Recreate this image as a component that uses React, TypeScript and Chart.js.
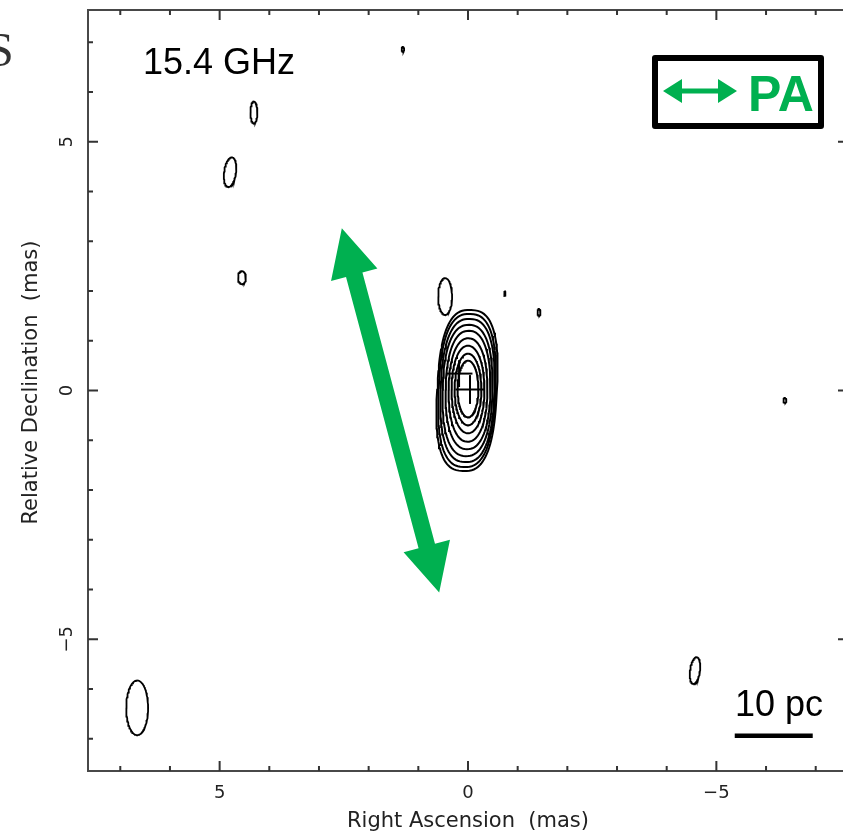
import React, { useEffect, useRef } from "react";
import { Chart, registerables } from "chart.js";

Chart.register(...registerables);

// ---- axis ----
const axisMin = -7.65;
const axisMax = 7.65;
const minorTicks = [-7, -6, -5, -4, -3, -2, -1, 0, 1, 2, 3, 4, 5, 6, 7];
const majorTicks = [-5, 0, 5];
const majorTickLabels = ["\u22125", "0", "5"];

// ---- main component contours (mas) ----
const mainCenterX = [0.0, 0.0, 0.0, 0.0, 0.0, 0.01, 0.01, 0.02, 0.02];
const mainCenterY = [0.03, 0.02, 0.02, 0.01, 0.01, 0.0, 0.0, 0.0, 0.0];
const mainHalfWidth = [0.21, 0.27, 0.33, 0.39, 0.45, 0.5, 0.54, 0.57, 0.6];
const mainHalfHeight = [0.57, 0.72, 0.88, 1.04, 1.19, 1.32, 1.44, 1.54, 1.62];
const mainTilt = [0, 0, 0, 0.5, 1, 1.5, 2, 2.5, 3];
const mainSquareness = [2, 2, 2.1, 2.2, 2.3, 2.4, 2.5, 2.6, 2.7];

// ---- isolated faint contours (mas) ----
const blobX = [4.31, 4.79, 4.55, 1.31, 0.46, -0.74, -1.43, -6.38, -4.57, 6.66];
const blobY = [5.59, 4.39, 2.27, 6.86, 1.89, 1.95, 1.57, -0.2, -5.63, -6.38];
const blobA = [0.07, 0.12, 0.08, 0.025, 0.14, 0.015, 0.03, 0.03, 0.1, 0.22];
const blobB = [0.22, 0.3, 0.13, 0.05, 0.37, 0.05, 0.07, 0.05, 0.27, 0.55];
const blobTilt = [0, 8, 0, 0, 0, 0, 0, 0, 8, 0];

// ---- crosses (mas) ----
const crossX = [0.18, -0.04];
const crossY = [0.34, 0.02];
const crossArm = [0.27, 0.29];

// ---- PA arrow (mas) ----
const paArrowStart = [2.54, 3.26];
const paArrowEnd = [0.58, -4.06];

// ---- scale bar (mas) ----
const scaleBarX = [-5.37, -6.94];
const scaleBarY = -6.94;

const GREEN = "#00b050";

function ellipsePoints(cx: number, cy: number, a: number, b: number, tiltDeg: number, p = 2) {
  const n = 96;
  const t = (tiltDeg * Math.PI) / 180;
  const e = 2 / p;
  const pts: { x: number; y: number }[] = [];
  for (let i = 0; i <= n; i++) {
    const th = (i / n) * 2 * Math.PI;
    const c = Math.cos(th);
    const s = Math.sin(th);
    const ex = a * Math.sign(c) * Math.pow(Math.abs(c), e);
    const ey = b * Math.sign(s) * Math.pow(Math.abs(s), e);
    pts.push({ x: cx + ex * Math.cos(t) - ey * Math.sin(t), y: cy + ex * Math.sin(t) + ey * Math.cos(t) });
  }
  return pts;
}

function lineDs(data: { x: number; y: number }[], width: number) {
  return {
    data,
    showLine: true,
    borderColor: "#000",
    borderWidth: width,
    pointRadius: 0,
    fill: false,
    tension: 0,
  };
}

function drawDoubleArrow(
  ctx: CanvasRenderingContext2D,
  x1: number, y1: number, x2: number, y2: number,
  headLen: number, headHalf: number, shaftHalf: number
) {
  const dx = x2 - x1;
  const dy = y2 - y1;
  const L = Math.hypot(dx, dy);
  const ux = dx / L, uy = dy / L;
  const nx = -uy, ny = ux;
  const b1x = x1 + ux * headLen, b1y = y1 + uy * headLen;
  const b2x = x2 - ux * headLen, b2y = y2 - uy * headLen;
  ctx.beginPath();
  ctx.moveTo(x1, y1);
  ctx.lineTo(b1x + nx * headHalf, b1y + ny * headHalf);
  ctx.lineTo(b1x + nx * shaftHalf, b1y + ny * shaftHalf);
  ctx.lineTo(b2x + nx * shaftHalf, b2y + ny * shaftHalf);
  ctx.lineTo(b2x + nx * headHalf, b2y + ny * headHalf);
  ctx.lineTo(x2, y2);
  ctx.lineTo(b2x - nx * headHalf, b2y - ny * headHalf);
  ctx.lineTo(b2x - nx * shaftHalf, b2y - ny * shaftHalf);
  ctx.lineTo(b1x - nx * shaftHalf, b1y - ny * shaftHalf);
  ctx.lineTo(b1x - nx * headHalf, b1y - ny * headHalf);
  ctx.closePath();
  ctx.fill();
}

const overlayPlugin = {
  id: "overlay",
  afterDraw(chart: any) {
    const { ctx, chartArea: ca } = chart;
    const xs = chart.scales.x;
    const ys = chart.scales.y;
    ctx.save();

    // frame
    ctx.strokeStyle = "#484848";
    ctx.lineWidth = 2;
    ctx.strokeRect(ca.left, ca.top, ca.right - ca.left, ca.bottom - ca.top);

    // inward ticks
    ctx.lineWidth = 2;
    ctx.strokeStyle = "#333";
    for (const v of minorTicks) {
      const len = majorTicks.includes(v) ? 10 : 5;
      const px = xs.getPixelForValue(v);
      const py = ys.getPixelForValue(v);
      ctx.beginPath();
      ctx.moveTo(px, ca.bottom);
      ctx.lineTo(px, ca.bottom - len);
      ctx.moveTo(px, ca.top);
      ctx.lineTo(px, ca.top + len);
      ctx.moveTo(ca.left, py);
      ctx.lineTo(ca.left + len, py);
      ctx.moveTo(ca.right, py);
      ctx.lineTo(ca.right - len, py);
      ctx.stroke();
    }

    // tick labels
    ctx.fillStyle = "#222";
    ctx.font = '18px "DejaVu Sans"';
    ctx.textAlign = "center";
    ctx.textBaseline = "alphabetic";
    majorTicks.forEach((v, i) => {
      ctx.fillText(majorTickLabels[i], xs.getPixelForValue(v), ca.bottom + 27);
      ctx.save();
      ctx.translate(ca.left - 16, ys.getPixelForValue(v));
      ctx.rotate(-Math.PI / 2);
      ctx.fillText(majorTickLabels[i], 0, 0);
      ctx.restore();
    });

    // axis titles
    ctx.font = '21px "DejaVu Sans"';
    ctx.fillText("Right Ascension  (mas)", xs.getPixelForValue(0), 827);
    ctx.save();
    ctx.translate(37, ys.getPixelForValue(0.16));
    ctx.rotate(-Math.PI / 2);
    ctx.fillText("Relative Declination  (mas)", 0, 0);
    ctx.restore();

    // clipped neighbouring-panel letter
    ctx.fillStyle = "#333";
    ctx.font = '48px "Liberation Serif"';
    ctx.textAlign = "left";
    ctx.fillText("S", -13, 66);

    // frequency label
    ctx.fillStyle = "#000";
    ctx.font = '36px "Liberation Sans"';
    ctx.fillText("15.4 GHz", 143, 74);

    // scale bar
    ctx.fillText("10 pc", 735, 716);
    ctx.lineWidth = 4.5;
    ctx.strokeStyle = "#000";
    ctx.beginPath();
    ctx.moveTo(xs.getPixelForValue(scaleBarX[0]), ys.getPixelForValue(scaleBarY));
    ctx.lineTo(xs.getPixelForValue(scaleBarX[1]), ys.getPixelForValue(scaleBarY));
    ctx.stroke();

    // PA arrow
    ctx.fillStyle = GREEN;
    drawDoubleArrow(
      ctx,
      xs.getPixelForValue(paArrowStart[0]), ys.getPixelForValue(paArrowStart[1]),
      xs.getPixelForValue(paArrowEnd[0]), ys.getPixelForValue(paArrowEnd[1]),
      48, 24, 8.5
    );

    // PA legend box
    ctx.strokeStyle = "#000";
    ctx.lineWidth = 6;
    ctx.lineJoin = "round";
    ctx.strokeRect(655, 58, 166, 68);
    ctx.fillStyle = GREEN;
    drawDoubleArrow(ctx, 663, 91, 737, 91, 19, 12, 2.6);
    ctx.font = 'bold 50px "Liberation Sans"';
    ctx.fillText("PA", 748, 111);

    ctx.restore();
  },
};

export default function App() {
  const ref = useRef<HTMLCanvasElement | null>(null);

  useEffect(() => {
    if (!ref.current) return;
    const datasets: any[] = [];
    mainHalfWidth.forEach((a, i) => {
      datasets.push(
        lineDs(ellipsePoints(mainCenterX[i], mainCenterY[i], a, mainHalfHeight[i], mainTilt[i], mainSquareness[i]), 2)
      );
    });
    blobX.forEach((cx, i) => {
      datasets.push(lineDs(ellipsePoints(cx, blobY[i], blobA[i], blobB[i], blobTilt[i]), 1.8));
    });
    crossX.forEach((cx, i) => {
      const cy = crossY[i];
      const r = crossArm[i];
      datasets.push(lineDs([{ x: cx - r, y: cy }, { x: cx + r, y: cy }], 2));
      datasets.push(lineDs([{ x: cx, y: cy - r }, { x: cx, y: cy + r }], 2));
    });

    const chart = new Chart(ref.current, {
      type: "scatter",
      data: { datasets },
      options: {
        responsive: false,
        animation: false,
        devicePixelRatio: 1,
        layout: { padding: { left: 88, top: 10, right: 12, bottom: 61 } },
        plugins: { legend: { display: false }, tooltip: { enabled: false } },
        scales: {
          x: { type: "linear", reverse: true, min: axisMin, max: axisMax, display: false },
          y: { type: "linear", min: axisMin, max: axisMax, display: false },
        },
      },
      plugins: [overlayPlugin],
    });
    return () => chart.destroy();
  }, []);

  return (
    <div style={{ position: "fixed", left: 0, top: 0, width: 843, height: 832, overflow: "hidden", background: "#fff" }}>
      <canvas ref={ref} width={860} height={832} style={{ display: "block" }} />
    </div>
  );
}
